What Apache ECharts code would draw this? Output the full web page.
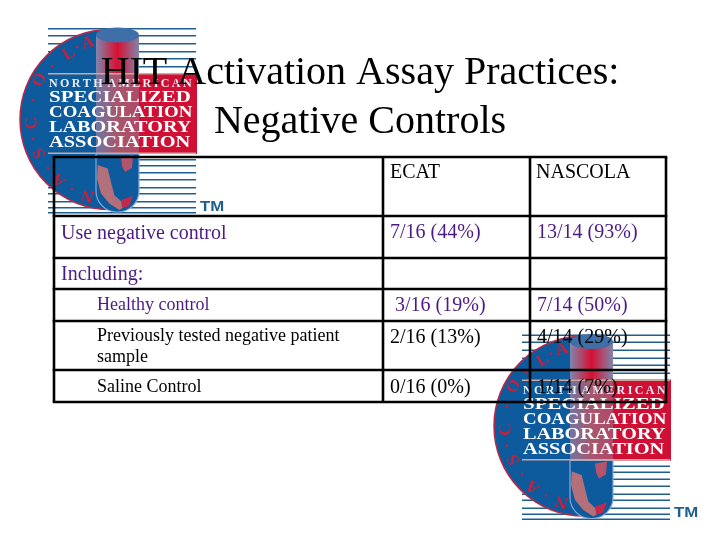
<!DOCTYPE html>
<html>
<head>
<meta charset="utf-8">
<script src="https://cdn.jsdelivr.net/npm/echarts@6/dist/echarts.min.js"></script>
<style>html,body{margin:0;background:#fff}#chart{width:720px;height:540px}</style>
</head>
<body>
<div id="chart"></div>
<script>
// table content
var titleLines = ["HIT Activation Assay Practices:", "Negative Controls"];
var columns = ["ECAT", "NASCOLA"];
var rowLabels = ["Use negative control", "Including:", "Healthy control", "Previously tested negative patient\nsample", "Saline Control"];
var ecat = ["7/16 (44%)", "", " 3/16 (19%)", "2/16 (13%)", "0/16 (0%)"];
var nascola = ["13/14 (93%)", "", "7/14 (50%)", "4/14 (29%)", "1/14 (7%)"];
var logoLines = ["SPECIALIZED", "COAGULATION", "LABORATORY", "ASSOCIATION"];
var ringLetters = ["A", "L", "O", "C", "S", "A", "N"];

var PURPLE = "#4b1a85";
var BLUE = "#0d5a9c";
var RED = "#cf1034";
var SERIF = "Liberation Serif";

var myChart = echarts.init(document.getElementById("chart"));

function hGrad(a, b, c) {
  return new echarts.graphic.LinearGradient(0, 0, 1, 0, [
    { offset: 0, color: a },
    { offset: 0.5, color: b },
    { offset: 1, color: c },
  ]);
}

function stripe(y) {
  return { type: "rect", shape: { x: 48, y: y, width: 148, height: 1.6 }, style: { fill: "#1f5f8f" } };
}

// logo is drawn in the coordinates of the top-left copy, then moved as a group
function buildLogo(dx, dy) {
  var kids = [];
  [28, 35, 43, 51, 58, 66, 159, 165, 172, 179, 187, 193, 201, 207, 212].forEach(function (y) {
    kids.push(stripe(y));
  });
  // red band + disc
  kids.push({ type: "rect", shape: { x: 110, y: 73, width: 87, height: 81 }, style: { fill: RED } });
  kids.push({
    type: "sector",
    shape: { cx: 110, cy: 119.5, r: 90, r0: 0, startAngle: Math.PI / 2, endAngle: Math.PI * 1.5 },
    style: { fill: BLUE, stroke: "#b32a4c", lineWidth: 1.5 },
  });
  // tube: top section, band section, lower section
  kids.push({ type: "rect", shape: { x: 96, y: 35, width: 43, height: 38 }, style: { fill: hGrad("#7f86ad", "#d80f30", "#7f86ad") } });
  kids.push({ type: "rect", shape: { x: 96, y: 73, width: 43, height: 81 }, style: { fill: hGrad("#6f76a4", "#a8566c", "#b04a68") } });
  kids.push({
    type: "rect",
    shape: { x: 96, y: 154, width: 43, height: 58, r: [0, 0, 21, 21] },
    style: { fill: BLUE, stroke: "#86a9d8", lineWidth: 1.2 },
  });
  kids.push({ type: "polygon", shape: { points: [[97.7, 165], [107.7, 168.5], [111, 182], [114.3, 195], [126, 206], [119.3, 210], [109.3, 203.5], [101, 193.5], [97, 178.5]] }, style: { fill: "#b3707a" } });
  kids.push({ type: "polygon", shape: { points: [[121, 200], [132.7, 196], [129.3, 206], [122, 208]] }, style: { fill: "#c22a4c" } });
  kids.push({ type: "polygon", shape: { points: [[121, 157], [133, 155], [132, 168], [125, 172], [122, 166]] }, style: { fill: "#b5536c" } });
  kids.push({ type: "ellipse", shape: { cx: 117.5, cy: 35, rx: 21.5, ry: 7.5 }, style: { fill: "#3f6fa8" } });
  // tan rules above and below the band
  kids.push({ type: "rect", shape: { x: 48, y: 73, width: 148, height: 1.6 }, style: { fill: "#cfa79b" } });
  kids.push({ type: "rect", shape: { x: 48, y: 152.5, width: 148, height: 1.6 }, style: { fill: "#cfa79b" } });
  // lettering
  kids.push({
    type: "text",
    x: 49,
    y: 84,
    style: { text: "N O R T H  A M E R I C A N".replace(/ /g, "\u2009"), font: "bold 12px " + SERIF, fill: "#e8eef8", verticalAlign: "middle" },
  });
  var fit = [1.23, 1.11, 1.19, 1.2];
  logoLines.forEach(function (line, i) {
    kids.push({
      type: "text",
      x: 49,
      y: 98 + i * 15,
      scaleX: fit[i],
      style: { text: line, font: "bold 17px " + SERIF, fill: "#fff", verticalAlign: "middle" },
    });
  });
  [[88, 43], [69, 54], [40, 80], [32, 123], [40, 153], [59, 180], [88, 195]].forEach(function (p, i) {
    kids.push({
      type: "text",
      x: p[0],
      y: p[1],
      rotation: Math.atan2(110 - p[0], 119.5 - p[1]),
      style: { text: ringLetters[i], font: "bold 17px " + SERIF, fill: "#c5213f", align: "center", verticalAlign: "middle" },
    });
  });
  [[77, 47], [52, 66], [33, 100], [33, 139], [48, 168], [72, 189]].forEach(function (p) {
    kids.push({ type: "circle", shape: { cx: p[0], cy: p[1], r: 1.3 }, style: { fill: "#c5213f" } });
  });
  kids.push({
    type: "text",
    x: 200,
    y: 207,
    scaleX: 1.2,
    style: { text: "TM", font: "bold 14px Liberation Sans", fill: "#1f5f8f", verticalAlign: "middle" },
  });
  return { type: "group", x: dx, y: dy, silent: true, children: kids };
}

function label(x, y, text, size, color) {
  return {
    type: "text",
    x: x,
    y: y,
    z: 10,
    style: { text: text, font: size + "px " + SERIF, fill: color, verticalAlign: "middle", lineHeight: 21 },
  };
}

function rule(x1, y1, x2, y2) {
  return {
    type: "line",
    z: 10,
    shape: { x1: x1, y1: y1, x2: x2, y2: y2 },
    style: { stroke: "#000", lineWidth: 2.6 },
  };
}

var elements = [buildLogo(0, 0), buildLogo(474, 306.5)];

// title
[73, 122].forEach(function (y, i) {
  elements.push({
    type: "text",
    x: 360,
    y: y,
    z: 10,
    style: { text: titleLines[i], font: "40px " + SERIF, fill: "#000", align: "center", verticalAlign: "middle" },
  });
});

// table lines
var left = 54, col1 = 383, col2 = 530, right = 666;
[157, 216, 258, 289, 321, 370, 402].forEach(function (y) {
  elements.push(rule(left - 1.3, y, right + 1.3, y));
});
[left, col1, col2, right].forEach(function (x) {
  elements.push(rule(x, 157, x, 402));
});

// table text
elements.push(label(390, 173, columns[0], 20, "#000"));
elements.push(label(536, 173, columns[1], 20, "#000"));
var labelX = [61, 61, 97, 97, 97];
var labelY = [234, 275, 305, 347, 387];
var labelSize = [20, 20, 18, 18, 18];
var valueY = [233, 275, 306, 338, 388];
rowLabels.forEach(function (text, i) {
  var color = i < 3 ? PURPLE : "#000";
  elements.push(label(labelX[i], labelY[i], text, labelSize[i], color));
  if (ecat[i]) elements.push(label(390, valueY[i], ecat[i], 20, color));
  if (nascola[i]) elements.push(label(537, valueY[i], nascola[i], 20, color));
});

option = {
  backgroundColor: "#fff",
  animation: false,
  graphic: { elements: elements },
};

myChart.setOption(option);
</script>
</body>
</html>
